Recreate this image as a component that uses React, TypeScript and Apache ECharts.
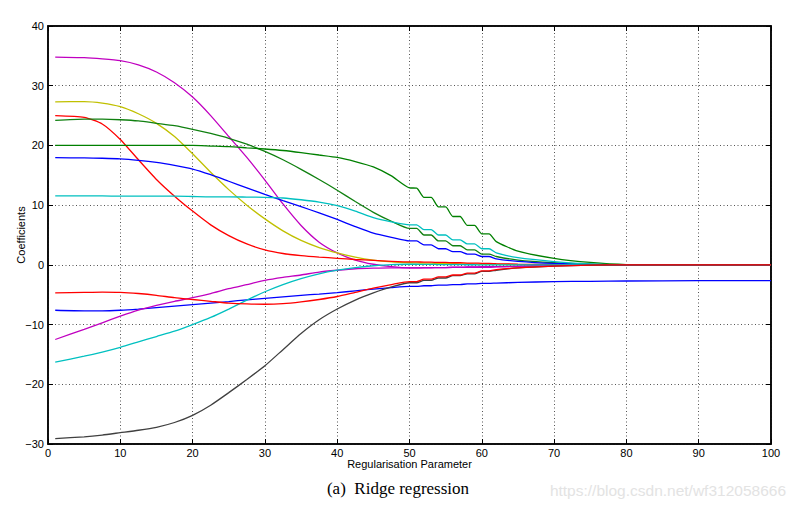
import React, { useEffect, useRef } from "react";
import * as echarts from "echarts";

const X = [1, 5, 7.5, 10, 12.5, 15, 17.5, 20, 22.5, 25, 27.5, 30, 32.5, 35, 37.5, 40, 42.5, 45, 47.5, 50,
  51, 52, 53, 54, 55, 56, 57, 58, 59, 60, 61, 62, 65, 70, 75, 80, 90, 100];

const magentaTop = [34.8, 34.7, 34.5, 34.2, 33.5, 32.3, 30.5, 28.1, 25.0, 21.5, 18.0, 14.2, 10.2, 6.6, 3.8, 2.0, 0.8, 0.1, -0.3, -0.5,
  -0.5, -0.5, -0.5, -0.45, -0.45, -0.4, -0.4, -0.35, -0.35, -0.3, -0.3, -0.3, -0.2, -0.1, -0.03, 0, 0, 0];
const yellow = [27.3, 27.35, 27.1, 26.5, 25.3, 23.7, 21.5, 18.6, 15.5, 12.6, 10.0, 7.7, 5.7, 4.1, 2.9, 2.0, 1.3, 0.8, 0.5, 0.35,
  0.33, 0.3, 0.28, 0.25, 0.22, 0.2, 0.18, 0.15, 0.13, 0.1, 0.1, 0.08, 0.05, 0.02, 0, 0, 0, 0];
const redTop = [25.0, 24.7, 23.6, 21.0, 17.6, 14.3, 11.5, 9.0, 6.7, 4.9, 3.5, 2.5, 1.9, 1.55, 1.3, 1.1, 0.9, 0.75, 0.6, 0.5,
  0.5, 0.45, 0.45, 0.4, 0.4, 0.35, 0.35, 0.3, 0.3, 0.25, 0.25, 0.2, 0.12, 0.05, 0.02, 0, 0, 0];
const greenB = [24.2, 24.4, 24.4, 24.3, 24.1, 23.7, 23.3, 22.7, 22.0, 21.2, 20.2, 19.0, 17.6, 16.0, 14.3, 12.5, 10.6, 8.8, 7.3, 6.1,
  6.1, 5.0, 5.0, 4.0, 4.0, 3.2, 3.2, 2.5, 2.5, 1.8, 1.8, 1.4, 0.8, 0.35, 0.1, 0, 0, 0];
const greenA = [20.0, 20.0, 20.0, 20.0, 20.0, 20.0, 20.0, 20.0, 19.9, 19.8, 19.6, 19.4, 19.15, 18.8, 18.4, 18.0, 17.3, 16.4, 14.9, 12.9,
  12.85, 11.3, 11.3, 9.7, 9.7, 8.1, 8.1, 6.6, 6.6, 5.2, 5.2, 3.9, 2.3, 1.1, 0.4, 0.05, 0, 0];
const blueTop = [17.95, 17.9, 17.85, 17.75, 17.5, 17.15, 16.65, 16.05, 15.1, 14.0, 12.9, 11.8, 10.75, 9.75, 8.7, 7.6, 6.4, 5.3, 4.6, 4.0,
  4.0, 3.35, 3.35, 2.7, 2.7, 2.2, 2.2, 1.8, 1.8, 1.4, 1.4, 1.0, 0.6, 0.25, 0.08, 0, 0, 0];
const cyanTop = [11.55, 11.55, 11.55, 11.5, 11.5, 11.5, 11.5, 11.45, 11.4, 11.4, 11.35, 11.3, 11.2, 10.9, 10.5, 9.9, 9.0, 7.9, 7.2, 6.7,
  6.7, 5.9, 5.9, 5.0, 5.0, 4.2, 4.2, 3.5, 3.5, 2.7, 2.7, 2.0, 1.2, 0.55, 0.15, 0, 0, 0];
const redLow = [-4.7, -4.6, -4.55, -4.6, -4.8, -5.1, -5.5, -5.8, -6.1, -6.4, -6.55, -6.6, -6.5, -6.2, -5.8, -5.3, -4.6, -3.9, -3.3, -2.8,
  -2.8, -2.4, -2.4, -2.0, -2.0, -1.7, -1.7, -1.4, -1.4, -1.0, -1.0, -0.8, -0.5, -0.2, -0.05, 0, 0, 0];
const blueLow = [-7.6, -7.7, -7.7, -7.6, -7.4, -7.15, -6.9, -6.65, -6.4, -6.15, -5.85, -5.6, -5.35, -5.1, -4.9, -4.65, -4.35, -4.05, -3.8, -3.6,
  -3.6, -3.5, -3.5, -3.4, -3.4, -3.3, -3.3, -3.2, -3.2, -3.1, -3.1, -3.05, -2.95, -2.8, -2.75, -2.7, -2.65, -2.65];
const magentaLow = [-12.5, -10.8, -9.7, -8.6, -7.6, -6.8, -6.1, -5.5, -4.8, -4.0, -3.3, -2.6, -2.1, -1.7, -1.2, -0.9, -0.65, -0.55, -0.5, -0.5,
  -0.5, -0.48, -0.48, -0.45, -0.45, -0.43, -0.43, -0.4, -0.4, -0.4, -0.4, -0.35, -0.25, -0.1, -0.03, 0, 0, 0];
const cyanLow = [-16.3, -15.3, -14.6, -13.8, -12.9, -12.0, -11.1, -10.0, -8.8, -7.4, -5.9, -4.5, -3.3, -2.3, -1.5, -0.9, -0.45, -0.15, 0.05, 0.1,
  0.1, 0.08, 0.08, 0.05, 0.05, 0.04, 0.04, 0.02, 0.02, 0, 0, 0, 0, 0, 0, 0, 0, 0];
const black = [-29.1, -28.8, -28.5, -28.1, -27.7, -27.2, -26.4, -25.2, -23.5, -21.4, -19.2, -16.9, -14.2, -11.5, -9.2, -7.4, -5.9, -4.7, -3.7, -3.0,
  -3.0, -2.6, -2.6, -2.2, -2.2, -1.8, -1.8, -1.5, -1.5, -1.1, -1.1, -0.9, -0.5, -0.2, -0.05, 0, 0, 0];

const xTicks = [0, 10, 20, 30, 40, 50, 60, 70, 80, 90, 100];
const yTicks = [-30, -20, -10, 0, 10, 20, 30, 40];

const seriesDefs: [string, number[], string][] = [
  ["magentaTop", magentaTop, "#c000c0"],
  ["yellow", yellow, "#c0c000"],
  ["redTop", redTop, "#ff0000"],
  ["greenB", greenB, "#108010"],
  ["greenA", greenA, "#008000"],
  ["blueTop", blueTop, "#0000ff"],
  ["cyanTop", cyanTop, "#00c0c0"],
  ["blueLow", blueLow, "#0000ff"],
  ["magentaLow", magentaLow, "#c000c0"],
  ["cyanLow", cyanLow, "#00c0c0"],
  ["black", black, "#404040"],
  ["redLow", redLow, "#ff0000"],
];

const FONT = "Liberation Sans, Arial, sans-serif";

export default function App() {
  const ref = useRef<HTMLDivElement>(null);
  useEffect(() => {
    const chart = echarts.init(ref.current!, undefined, { renderer: "svg" });
    const fmt = (v: number) => (v < 0 ? "\u2212" + Math.abs(v) : String(v));
    const splitLine = { show: true, lineStyle: { color: "#555", type: [1, 2.5] as any, width: 1 } };
    const extraTick = { show: true, inside: true, length: 5, lineStyle: { color: "#000" } };
    chart.setOption({
      animation: false,
      backgroundColor: "#fff",
      grid: { left: 48, right: 25, top: 26, bottom: 68, outerBoundsMode: "none", containLabel: false, show: true, borderColor: "#000", borderWidth: 1.5, backgroundColor: "transparent" },
      xAxis: [
        {
          type: "value", min: xTicks[0], max: xTicks[xTicks.length - 1], interval: 10,
          name: "Regularisation Parameter", nameLocation: "middle", nameGap: 14, nameMoveOverlap: false,
          nameTextStyle: { fontFamily: FONT, fontSize: 11, color: "#000" },
          axisLine: { show: true, onZero: false, lineStyle: { color: "#000", width: 1.5 } },
          axisTick: extraTick,
          axisLabel: { fontFamily: FONT, fontSize: 11, color: "#000", margin: 3 },
          splitLine,
        },
        {
          type: "value", position: "top", min: 0, max: 100, interval: 10,
          axisLine: { show: true, onZero: false, lineStyle: { color: "#000", width: 1.5 } },
          axisTick: extraTick,
          axisLabel: { show: false }, splitLine: { show: false },
        },
      ],
      yAxis: [
        {
          type: "value", min: yTicks[0], max: yTicks[yTicks.length - 1], interval: 10,
          name: "Coefficients", nameLocation: "middle", nameGap: 22, nameMoveOverlap: false,
          nameTextStyle: { fontFamily: FONT, fontSize: 11, color: "#000" },
          axisLine: { show: true, onZero: false, lineStyle: { color: "#000", width: 1.5 } },
          axisTick: extraTick,
          axisLabel: { fontFamily: FONT, fontSize: 11, color: "#000", margin: 4, formatter: fmt },
          splitLine,
        },
        {
          type: "value", position: "right", min: -30, max: 40, interval: 10,
          axisLine: { show: true, onZero: false, lineStyle: { color: "#000", width: 1.5 } },
          axisTick: extraTick,
          axisLabel: { show: false }, splitLine: { show: false },
        },
      ],
      series: seriesDefs.map(([name, ys, color]) => ({
        name,
        type: "line",
        data: X.map((x, i) => [x, ys[i]]),
        showSymbol: false,
        smooth: 0.2,
        lineStyle: { color, width: 1.3 },
        itemStyle: { color },
        z: 3,
      })),
      graphic: [
        {
          type: "text", left: "center", top: 480,
          style: { text: "(a)  Ridge regression", font: "17px 'Liberation Serif', serif", fill: "#000" },
        },
        {
          type: "text", right: 10, top: 482,
          style: { text: "https://blog.csdn.net/wf312058666", font: "15.5px " + FONT, fill: "#e3e3e3" },
        },
      ],
    });
    return () => chart.dispose();
  }, []);
  return <div ref={ref} style={{ width: 796, height: 512, position: "absolute", left: 0, top: 0 }} />;
}
